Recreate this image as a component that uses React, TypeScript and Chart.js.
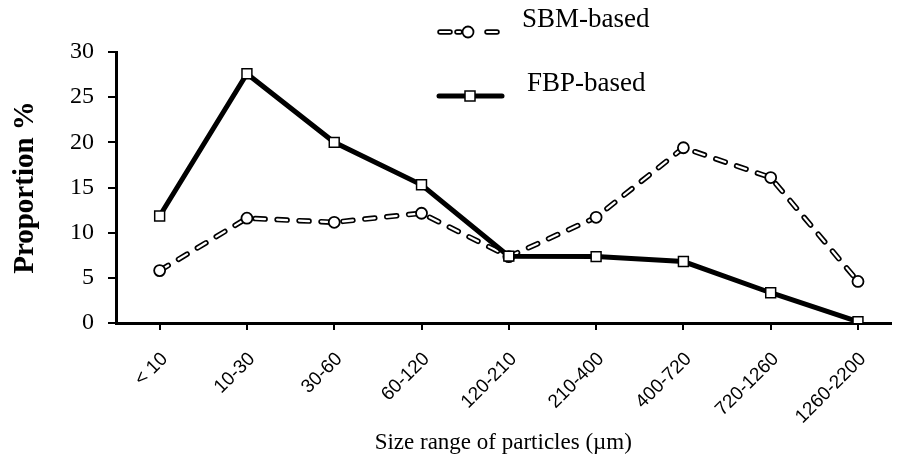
import { useEffect, useRef } from 'react';
import { Chart, registerables } from 'chart.js';

Chart.register(...registerables);

const categories = ['< 10', '10-30', '30-60', '60-120', '120-210', '210-400', '400-720', '720-1260', '1260-2200'];
const sbmValues = [5.8, 11.6, 11.15, 12.15, 7.35, 11.7, 19.4, 16.1, 4.6];
const fbpValues = [11.85, 27.6, 20.0, 15.3, 7.4, 7.35, 6.8, 3.35, 0.15];
const seriesNames = ['SBM-based', 'FBP-based'];
const yMin = 0;
const yMax = 30;
const yStep = 5;
const xTitle = 'Size range of particles (\u00b5m)';
const yTitle = 'Proportion %';

const DASH = [10, 12];
const OUTER_W = 5.5;
const INNER_W = 2.2;

const legendPlugin = {
  id: 'customLegend',
  afterDraw(chart: any) {
    const ctx = chart.ctx as CanvasRenderingContext2D;
    ctx.save();
    // SBM sample
    const y1 = 32;
    const segs = [[440, 450], [457, 460], [487, 497]];
    ctx.lineCap = 'round';
    for (const [a, b] of segs) {
      ctx.strokeStyle = '#000';
      ctx.lineWidth = OUTER_W;
      ctx.beginPath(); ctx.moveTo(a, y1); ctx.lineTo(b, y1); ctx.stroke();
      ctx.strokeStyle = '#fff';
      ctx.lineWidth = INNER_W;
      ctx.beginPath(); ctx.moveTo(a, y1); ctx.lineTo(b, y1); ctx.stroke();
    }
    ctx.beginPath(); ctx.arc(468, y1, 5.5, 0, Math.PI * 2);
    ctx.fillStyle = '#fff'; ctx.fill();
    ctx.lineWidth = 1.8; ctx.strokeStyle = '#000'; ctx.stroke();

    // FBP sample
    const y2 = 96;
    ctx.lineWidth = 5;
    ctx.beginPath(); ctx.moveTo(439, y2); ctx.lineTo(502, y2); ctx.stroke();
    ctx.fillStyle = '#fff';
    ctx.fillRect(465, y2 - 5, 10, 10);
    ctx.lineWidth = 1.5;
    ctx.strokeRect(465, y2 - 5, 10, 10);

    ctx.fillStyle = '#000';
    ctx.font = '27px "Liberation Serif", serif';
    ctx.textBaseline = 'alphabetic';
    ctx.textAlign = 'left';
    ctx.fillText(seriesNames[0], 522, 27);
    ctx.fillText(seriesNames[1], 527, 91);
    ctx.restore();
  },
};

export default function App() {
  const ref = useRef<HTMLCanvasElement | null>(null);

  useEffect(() => {
    if (!ref.current) return;
    const sbmPts = sbmValues.map((v, i) => ({ x: i, y: v }));
    const fbpPts = fbpValues.map((v, i) => ({ x: i, y: v }));
    const chart = new Chart(ref.current, {
      type: 'line',
      data: {
        datasets: [
          {
            label: seriesNames[1],
            data: fbpPts,
            borderColor: '#000',
            borderWidth: 5,
            pointStyle: 'rect',
            pointRadius: 7,
            pointBackgroundColor: '#fff',
            pointBorderColor: '#000',
            pointBorderWidth: 1.5,
            order: 0,
            tension: 0,
          },
          {
            label: seriesNames[0],
            data: sbmPts,
            borderColor: '#fff',
            borderWidth: INNER_W,
            borderDash: DASH,
            borderCapStyle: 'round',
            pointStyle: 'circle',
            pointRadius: 5.5,
            pointBackgroundColor: '#fff',
            pointBorderColor: '#000',
            pointBorderWidth: 1.8,
            order: 1,
            tension: 0,
          },
          {
            label: seriesNames[0] + ' outline',
            data: sbmPts,
            borderColor: '#000',
            borderWidth: OUTER_W,
            borderDash: DASH,
            borderCapStyle: 'round',
            pointRadius: 0,
            order: 2,
            tension: 0,
          },
        ],
      },
      options: {
        responsive: false,
        animation: false,
        events: [],
        layout: { padding: { top: 52, left: 0, right: 0, bottom: 0 } },
        plugins: {
          legend: { display: false },
          tooltip: { enabled: false },
        },
        scales: {
          x: {
            type: 'linear',
            min: -0.5,
            max: (899 - 116) / 88.25 - 0.5,
            afterBuildTicks: (axis: any) => {
              axis.ticks = categories.map((_, i) => ({ value: i }));
            },
            afterFit: (scale: any) => {
              scale.height = 461 - 323;
            },
            ticks: {
              autoSkip: false,
              minRotation: 45,
              maxRotation: 45,
              padding: 18,
              labelOffset: 5,
              color: '#000',
              font: { family: '"Liberation Sans", sans-serif', size: 19 },
              callback: (v: any) => (Number.isInteger(v) ? categories[v] : ''),
            },
            grid: {
              drawOnChartArea: false,
              drawTicks: true,
              tickLength: 7,
              color: '#000',
              lineWidth: 2,
            },
            border: { display: true, color: '#000', width: 3 },
            title: {
              display: true,
              text: xTitle,
              color: '#000',
              font: { family: '"Liberation Serif", serif', size: 23 },
              padding: { top: 0, bottom: 4 },
            },
          },
          y: {
            type: 'linear',
            min: yMin,
            max: yMax,
            afterFit: (scale: any) => {
              scale.width = 116;
            },
            ticks: {
              stepSize: yStep,
              padding: 14,
              color: '#000',
              font: { family: '"Liberation Serif", serif', size: 24 },
            },
            grid: {
              drawOnChartArea: false,
              drawTicks: true,
              tickLength: 8,
              color: '#000',
              lineWidth: 2,
            },
            border: { display: true, color: '#000', width: 3 },
            title: {
              display: true,
              text: yTitle,
              color: '#000',
              font: { family: '"Liberation Serif", serif', size: 29, weight: 'bold' },
              padding: { top: 8, bottom: 0 },
            },
          },
        },
      },
      plugins: [legendPlugin],
    } as any);
    return () => chart.destroy();
  }, []);

  return (
    <canvas
      ref={ref}
      width={899}
      height={461}
      style={{ position: 'absolute', left: 0, top: 0, width: 899, height: 461 }}
    />
  );
}
